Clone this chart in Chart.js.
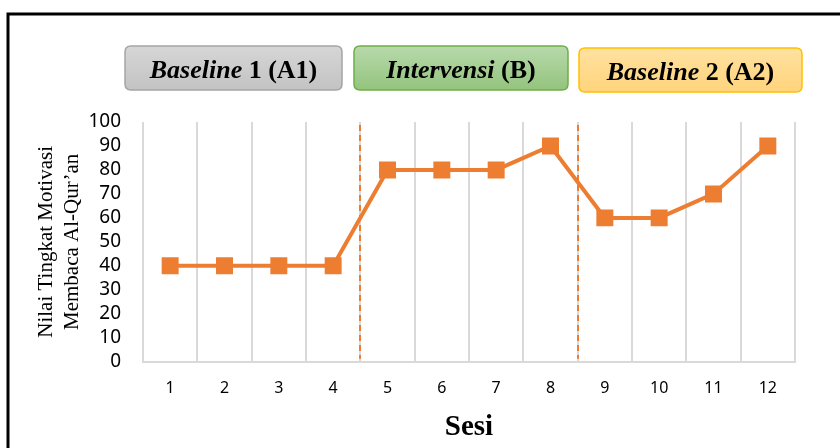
<!DOCTYPE html>
<html>
<head>
<meta charset="utf-8">
<title>Nilai Tingkat Motivasi</title>
<script src="https://cdn.jsdelivr.net/npm/chart.js@4.4.1/dist/chart.umd.min.js"></script>
<style>
  body { margin: 0; background: #fff; }
  canvas { display: block; }
</style>
</head>
<body>
<canvas id="lineChart1" width="840" height="448"></canvas>
<script>
// Sessions (x axis) and motivation scores
const sesi = ['1', '2', '3', '4', '5', '6', '7', '8', '9', '10', '11', '12'];
const nilai = [40, 40, 40, 40, 80, 80, 80, 90, 60, 60, 70, 90];

// Phase labels and where the phases change
const phaseItalic = ['Baseline', 'Intervensi', 'Baseline'];
const phaseRest = [' 1 (A1)', ' (B)', ' 2 (A2)'];
const phaseChange = [3.5, 7.5];   // between session 4|5 and 8|9

const yTicks = [0, 10, 20, 30, 40, 50, 60, 70, 80, 90, 100];

// box look per phase: [top colour, bottom colour, border]
const boxStyles = [
  ['#d6d6d6', '#c3c3c3', '#a5a5a5'],
  ['#b8d9ab', '#93c47d', '#70ad47'],
  ['#ffe1a0', '#ffd47c', '#ffc000']
];
const boxes = [            // x, y, w, h
  [125, 46, 217, 44],
  [354, 46, 214, 44],
  [579, 48, 223, 44]
];

function roundRect(ctx, x, y, w, h, r) {
  ctx.beginPath();
  ctx.moveTo(x + r, y);
  ctx.lineTo(x + w - r, y);
  ctx.quadraticCurveTo(x + w, y, x + w, y + r);
  ctx.lineTo(x + w, y + h - r);
  ctx.quadraticCurveTo(x + w, y + h, x + w - r, y + h);
  ctx.lineTo(x + r, y + h);
  ctx.quadraticCurveTo(x, y + h, x, y + h - r);
  ctx.lineTo(x, y + r);
  ctx.quadraticCurveTo(x, y, x + r, y);
  ctx.closePath();
}

const decorPlugin = {
  id: 'decor',
  beforeDraw(chart) {
    const ctx = chart.ctx;
    ctx.save();
    ctx.fillStyle = '#fff';
    ctx.fillRect(0, 0, chart.width, chart.height);
    // outer frame, runs off the right and bottom edge
    ctx.strokeStyle = '#000';
    ctx.lineWidth = 3;
    ctx.strokeRect(8, 14, chart.width + 20, chart.height + 20);
    ctx.restore();
  },
  beforeDatasetsDraw(chart) {
    // dashed phase change lines
    const ctx = chart.ctx;
    const x = chart.scales.x;
    const area = chart.chartArea;
    ctx.save();
    ctx.strokeStyle = '#ed7d31';
    ctx.lineWidth = 2;
    ctx.setLineDash([6, 4]);
    phaseChange.forEach(v => {
      const px = Math.round(x.getPixelForValue(v));
      ctx.beginPath();
      ctx.moveTo(px, area.top + 3);
      ctx.lineTo(px, area.bottom - 3);
      ctx.stroke();
    });
    ctx.restore();
  },
  afterDraw(chart) {
    const ctx = chart.ctx;
    ctx.save();
    boxes.forEach((b, i) => {
      const [bx, by, bw, bh] = b;
      const st = boxStyles[i];
      const g = ctx.createLinearGradient(0, by, 0, by + bh);
      g.addColorStop(0, st[0]);
      g.addColorStop(1, st[1]);
      roundRect(ctx, bx, by, bw, bh, 6);
      ctx.fillStyle = g;
      ctx.fill();
      ctx.strokeStyle = st[2];
      ctx.lineWidth = 1.5;
      ctx.stroke();

      const fItal = 'italic bold 26px "Liberation Serif"';
      const fBold = 'bold 26px "Liberation Serif"';
      ctx.font = fItal;
      const w1 = ctx.measureText(phaseItalic[i]).width;
      ctx.font = fBold;
      const w2 = ctx.measureText(phaseRest[i]).width;
      const tx = bx + bw / 2 - (w1 + w2) / 2;
      const ty = by + bh / 2 + 3;
      ctx.fillStyle = '#000';
      ctx.textBaseline = 'middle';
      ctx.textAlign = 'left';
      ctx.font = fItal;
      ctx.fillText(phaseItalic[i], tx, ty);
      ctx.font = fBold;
      ctx.fillText(phaseRest[i], tx + w1, ty);
    });
    ctx.restore();
  }
};

function createChart() {
  const el = document.getElementById('lineChart1');
  new Chart(el, {
    type: 'line',
    data: {
      labels: sesi,
      datasets: [{
        data: nilai,
        borderColor: '#ed7d31',
        backgroundColor: '#ed7d31',
        borderWidth: 4,
        pointStyle: 'rect',
        pointRadius: 12,
        pointBorderWidth: 0,
        tension: 0,
        fill: false
      }]
    },
    options: {
      responsive: false,
      animation: false,
      layout: { padding: { top: 122, right: 45, bottom: 7, left: 0 } },
      plugins: {
        legend: { display: false },
        tooltip: { enabled: false }
      },
      scales: {
        x: {
          offset: true,
          grid: { offset: true, color: '#d9d9d9', lineWidth: 2, drawTicks: false },
          border: { color: '#d9d9d9', width: 2 },
          ticks: {
            color: '#000',
            padding: 17,
            font: { family: 'Noto Sans', size: 16 }
          },
          title: {
            display: true,
            text: 'Sesi',
            color: '#000',
            padding: { top: 0, bottom: 0 },
            font: { family: 'Liberation Serif', size: 29, weight: 'bold', lineHeight: 0.9 }
          }
        },
        y: {
          min: 0,
          max: 100,
          afterBuildTicks: s => { s.ticks = yTicks.map(v => ({ value: v })); },
          afterFit: s => { s.width = 143; },
          grid: { display: false },
          border: { display: false },
          ticks: {
            color: '#000',
            autoSkip: false,
            padding: 14,
            font: { family: 'Noto Sans', size: 19 }
          },
          title: {
            display: true,
            text: ['Nilai Tingkat Motivasi', 'Membaca Al-Qur\u2019an'],
            color: '#000',
            padding: { top: 33, bottom: 0 },
            font: { family: 'Liberation Serif', size: 21, lineHeight: 1.25 }
          }
        }
      }
    },
    plugins: [decorPlugin]
  });
}

window.onload = function () {
  createChart();
};
</script>
</body>
</html>
